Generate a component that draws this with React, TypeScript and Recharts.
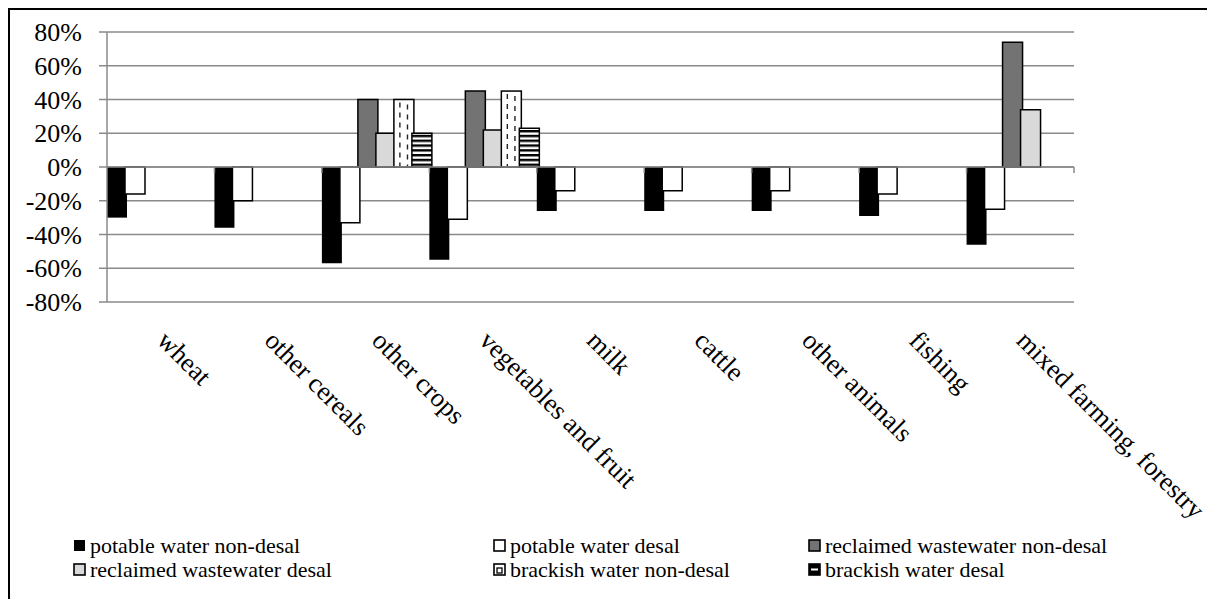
import React from 'react';
import {
  BarChart,
  Bar,
  XAxis,
  YAxis,
  CartesianGrid,
  Legend,
  ReferenceLine,
} from 'recharts';

// ---------- data ----------
const categories = [
  'wheat',
  'other cereals',
  'other crops',
  'vegetables and fruit',
  'milk',
  'cattle',
  'other animals',
  'fishing',
  'mixed farming, forestry',
];

const potableNonDesal = [-0.3, -0.36, -0.57, -0.55, -0.26, -0.26, -0.26, -0.29, -0.46];
const potableDesal = [-0.16, -0.2, -0.33, -0.31, -0.14, -0.14, -0.14, -0.16, -0.25];
const reclaimedNonDesal = [0, 0, 0.4, 0.45, 0, 0, 0, 0, 0.74];
const reclaimedDesal = [0, 0, 0.2, 0.22, 0, 0, 0, 0, 0.34];
const brackishNonDesal = [0, 0, 0.4, 0.45, 0, 0, 0, 0, 0];
const brackishDesal = [0, 0, 0.2, 0.23, 0, 0, 0, 0, 0];

const seriesNames = [
  'potable water non-desal',
  'potable water desal',
  'reclaimed wastewater non-desal',
  'reclaimed wastewater desal',
  'brackish water non-desal',
  'brackish water desal',
];

const yTicks = [-0.8, -0.6, -0.4, -0.2, 0, 0.2, 0.4, 0.6, 0.8];

const data = categories.map((category, i) => ({
  category,
  pnd: potableNonDesal[i],
  pd: potableDesal[i],
  rnd: reclaimedNonDesal[i],
  rd: reclaimedDesal[i],
  bnd: brackishNonDesal[i],
  bd: brackishDesal[i],
}));

// ---------- styles ----------
const FONT = '"Liberation Serif", "Times New Roman", serif';
const GRID = '#8a8a8a';

const DottedBar = (props: any) => {
  const { x, y, width, height } = props;
  if (!height || !width) return null;
  const top = Math.min(y, y + height);
  const h = Math.abs(height);
  return (
    <g>
      <rect x={x} y={top} width={width} height={h} fill="#fff" stroke="#000" strokeWidth={1.5} />
      <line
        x1={x + width * 0.3}
        x2={x + width * 0.3}
        y1={top + 3}
        y2={top + h - 1}
        stroke="#222"
        strokeWidth={1.4}
        strokeDasharray="5 5"
      />
      <line
        x1={x + width * 0.68}
        x2={x + width * 0.68}
        y1={top + 5}
        y2={top + h - 1}
        stroke="#222"
        strokeWidth={1.4}
        strokeDasharray="5 5"
      />
    </g>
  );
};

const series = [
  { key: 'pnd', fill: '#000', stroke: 'none' },
  { key: 'pd', fill: '#fff', stroke: '#000' },
  { key: 'rnd', fill: '#737373', stroke: '#000' },
  { key: 'rd', fill: '#d9d9d9', stroke: '#000' },
  { key: 'bnd', fill: '#fff', stroke: '#000', shape: DottedBar },
  { key: 'bd', fill: 'url(#hstripes)', stroke: '#000' },
];

const CatTick = (props: any) => {
  const { x, y, payload } = props;
  const ax = x - 5;
  const ay = y + 40;
  return (
    <text
      x={ax}
      y={ay}
      transform={`rotate(45, ${ax}, ${ay})`}
      textAnchor="start"
      fontSize={26.5}
      fontFamily={FONT}
      fill="#000"
    >
      {payload.value}
    </text>
  );
};

const ZeroTicks = (props: any) => {
  const vb = props.viewBox || {};
  const { x, y, width } = vb;
  if (x == null || y == null || !width) return null;
  const n = categories.length;
  const lines = [];
  for (let i = 1; i <= n; i++) {
    const xx = x + (i * width) / n;
    lines.push(<line key={i} x1={xx} x2={xx} y1={y} y2={y + 6} stroke={GRID} strokeWidth={1.5} />);
  }
  return <g>{lines}</g>;
};

const LegendIcon = ({ k }: { k: string }) => {
  const s = series.find((d) => d.key === k)!;
  if (k === 'bnd') {
    return (
      <svg width={13} height={13} style={{ display: 'block' }}>
        <rect x={1} y={1} width={11} height={11} fill="#fff" stroke="#000" strokeWidth={1.6} />
        <rect x={4} y={5} width={5} height={5} fill="none" stroke="#000" strokeWidth={1.3} />
      </svg>
    );
  }
  if (k === 'bd') {
    return (
      <svg width={13} height={13} style={{ display: 'block' }}>
        <rect x={1} y={1} width={11} height={11} fill="#000" stroke="#000" strokeWidth={1.6} />
        <rect x={3} y={5.5} width={7} height={2} fill="#fff" />
      </svg>
    );
  }
  return (
    <svg width={13} height={13} style={{ display: 'block' }}>
      <rect
        x={1}
        y={1}
        width={11}
        height={11}
        fill={s.fill}
        stroke="#000"
        strokeWidth={s.key === 'pnd' ? 0 : 1.6}
      />
    </svg>
  );
};

const LegendContent = (props: any) => {
  const payload = [...(props.payload || [])].sort(
    (a: any, b: any) =>
      series.findIndex((s) => s.key === a.dataKey) - series.findIndex((s) => s.key === b.dataKey),
  );
  return (
    <div
      style={{
        height: 60,
        boxSizing: 'border-box',
        paddingTop: 5,
        paddingLeft: 63,
        display: 'grid',
        gridTemplateColumns: '420px 315px 400px',
        gridAutoRows: '23.5px',
        fontFamily: FONT,
        fontSize: 22,
        color: '#000',
      }}
    >
      {payload.map((p: any) => (
        <div key={p.dataKey} style={{ display: 'flex', alignItems: 'center', whiteSpace: 'nowrap' }}>
          <LegendIcon k={p.dataKey} />
          <span style={{ marginLeft: 4, lineHeight: '23.5px' }}>{p.value}</span>
        </div>
      ))}
    </div>
  );
};

export default function App() {
  return (
    <div
      style={{
        width: 1207,
        height: 591,
        borderTop: '2px solid #000',
        borderLeft: '2px solid #000',
        boxSizing: 'border-box',
        position: 'relative',
        background: '#fff',
      }}
    >
      <svg width={0} height={0} style={{ position: 'absolute' }}>
        <defs>
          <pattern id="hstripes" patternUnits="userSpaceOnUse" width={6} height={4.8}>
            <rect x={0} y={0} width={6} height={4.8} fill="#fff" />
            <rect x={0} y={0} width={6} height={2.4} fill="#000" />
          </pattern>
        </defs>
      </svg>
      <BarChart
        width={1205}
        height={589}
        data={data}
        margin={{ top: 22, right: 141, bottom: 10, left: 0 }}
        barCategoryGap={0}
        barGap={-2}
      >
        <CartesianGrid horizontal vertical={false} stroke={GRID} strokeWidth={1.5} />
        <XAxis
          dataKey="category"
          height={227}
          axisLine={false}
          tickLine={false}
          tickSize={0}
          tickMargin={0}
          interval={0}
          tick={<CatTick />}
        />
        <YAxis
          width={97}
          domain={[-0.8, 0.8]}
          ticks={yTicks}
          tickFormatter={(v: number) => `${Math.round(v * 100)}%`}
          axisLine={{ stroke: GRID, strokeWidth: 1.5 }}
          tickLine={{ stroke: GRID, strokeWidth: 1.5 }}
          tickSize={8}
          tickMargin={17}
          tick={{ fontSize: 26, fontFamily: FONT, fill: '#000' }}
          interval={0}
        />
        <ReferenceLine y={0} stroke={GRID} strokeWidth={1.5} label={<ZeroTicks />} />
        {series.map((s, i) => (
          <Bar
            key={s.key}
            dataKey={s.key}
            name={seriesNames[i]}
            fill={s.fill}
            stroke={s.stroke}
            strokeWidth={1.5}
            isAnimationActive={false}
            {...(s.shape ? { shape: s.shape } : {})}
          />
        ))}
        <Legend verticalAlign="bottom" content={<LegendContent />} />
      </BarChart>
    </div>
  );
}
